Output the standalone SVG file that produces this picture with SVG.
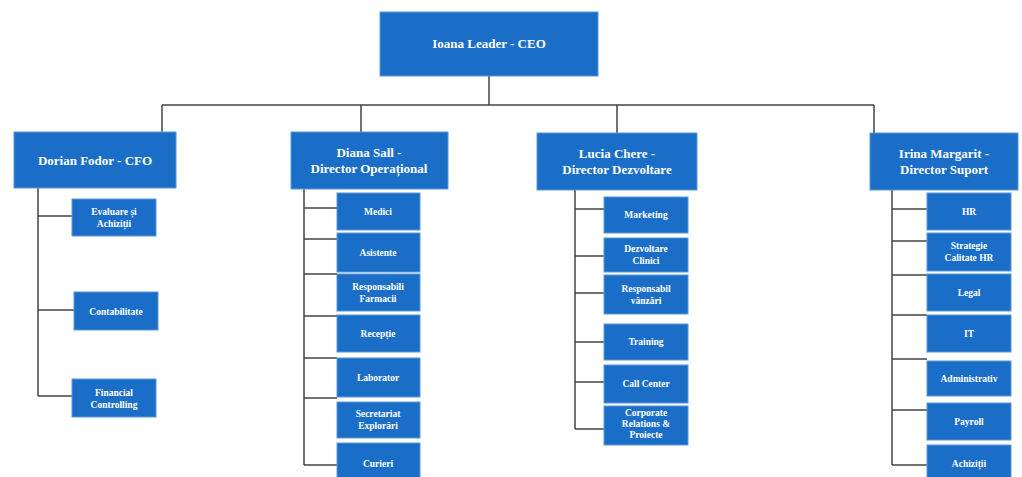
<svg xmlns="http://www.w3.org/2000/svg" width="1022" height="477" viewBox="0 0 1022 477">
<style>
.bx{fill:#1b6ec8;stroke:#5a97d8;stroke-width:1}
.h{fill:#ffffff;font-family:"Liberation Serif",serif;font-weight:bold;font-size:13px;text-anchor:middle}
.s{fill:#ffffff;font-family:"Liberation Serif",serif;font-weight:bold;font-size:9.5px;text-anchor:middle}
.ln{stroke:#444;stroke-width:1.5;fill:none}
</style>
<rect width="1022" height="477" fill="#ffffff"/>
<g id="connectors">
<path class="ln" d="M489 76V105M162 105H874M162 105V132M361 105V132M617 105V133M874 105V133"/>
<path class="ln" d="M38 188V396M38 216H72M38 310H74M38 396H72"/>
<path class="ln" d="M304 189V465M304 208H337M304 239H337M304 274H337M304 316H337M304 358H337M304 398H337M304 465H337"/>
<path class="ln" d="M575 190V429M575 209H604M575 256H604M575 293H604M575 342H604M575 382H604M575 429H604"/>
<path class="ln" d="M892 190V465M892 209H927M892 241H927M892 275H927M892 315H927M892 359H927M892 410H927M892 465H927"/>
</g>
<g id="ceo"><rect class="bx" x="380" y="12" width="218" height="64"/><text class="h" x="489" y="48">Ioana Leader - CEO</text></g>
<g id="cfo"><rect class="bx" x="14" y="132" width="162" height="56"/><text class="h" x="95" y="165">Dorian Fodor - CFO</text></g>
<g id="ops"><rect class="bx" x="291" y="132" width="157" height="57"/><text class="h" x="369" y="157">Diana Sall -</text><text class="h" x="369" y="173">Director Operațional</text></g>
<g id="dev"><rect class="bx" x="537" y="133" width="160" height="57"/><text class="h" x="617" y="158">Lucia Chere -</text><text class="h" x="617" y="174">Director Dezvoltare</text></g>
<g id="sup"><rect class="bx" x="870" y="133" width="148" height="57"/><text class="h" x="944" y="158">Irina Margarit -</text><text class="h" x="944" y="174">Director Suport</text></g>

<g id="c1a"><rect class="bx" x="72" y="199" width="84" height="37"/><text class="s" x="114" y="215">Evaluare și</text><text class="s" x="114" y="227">Achiziții</text></g>
<g id="c1b"><rect class="bx" x="74" y="292" width="84" height="38"/><text class="s" x="116" y="315">Contabilitate</text></g>
<g id="c1c"><rect class="bx" x="72" y="379" width="84" height="38"/><text class="s" x="114" y="396">Financial</text><text class="s" x="114" y="408">Controlling</text></g>

<g id="c2a"><rect class="bx" x="337" y="193" width="83" height="37"/><text class="s" x="378" y="215">Medici</text></g>
<g id="c2b"><rect class="bx" x="337" y="233" width="83" height="39"/><text class="s" x="378" y="256">Asistente</text></g>
<g id="c2c"><rect class="bx" x="337" y="274" width="83" height="37"/><text class="s" x="378" y="290">Responsabili</text><text class="s" x="378" y="302">Farmacii</text></g>
<g id="c2d"><rect class="bx" x="337" y="315" width="83" height="37"/><text class="s" x="378" y="337">Recepție</text></g>
<g id="c2e"><rect class="bx" x="337" y="358" width="83" height="39"/><text class="s" x="378" y="381">Laborator</text></g>
<g id="c2f"><rect class="bx" x="337" y="402" width="83" height="36"/><text class="s" x="378" y="417">Secretariat</text><text class="s" x="378" y="429">Explorări</text></g>
<g id="c2g"><rect class="bx" x="337" y="443" width="83" height="36"/><text class="s" x="378" y="467">Curieri</text></g>

<g id="c3a"><rect class="bx" x="604" y="197" width="84" height="36"/><text class="s" x="646" y="218">Marketing</text></g>
<g id="c3b"><rect class="bx" x="604" y="238" width="84" height="34"/><text class="s" x="646" y="252">Dezvoltare</text><text class="s" x="646" y="264">Clinici</text></g>
<g id="c3c"><rect class="bx" x="604" y="275" width="84" height="39"/><text class="s" x="646" y="292">Responsabil</text><text class="s" x="646" y="304">vânzări</text></g>
<g id="c3d"><rect class="bx" x="604" y="324" width="84" height="36"/><text class="s" x="646" y="345">Training</text></g>
<g id="c3e"><rect class="bx" x="604" y="365" width="84" height="38"/><text class="s" x="646" y="387">Call Center</text></g>
<g id="c3f"><rect class="bx" x="604" y="406" width="84" height="39"/><text class="s" x="646" y="416">Corporate</text><text class="s" x="646" y="427">Relations &amp;</text><text class="s" x="646" y="438">Proiecte</text></g>

<g id="c4a"><rect class="bx" x="927" y="193" width="84" height="37"/><text class="s" x="969" y="215">HR</text></g>
<g id="c4b"><rect class="bx" x="927" y="233" width="84" height="38"/><text class="s" x="969" y="249">Strategie</text><text class="s" x="969" y="261">Calitate HR</text></g>
<g id="c4c"><rect class="bx" x="927" y="274" width="84" height="37"/><text class="s" x="969" y="296">Legal</text></g>
<g id="c4d"><rect class="bx" x="927" y="315" width="84" height="37"/><text class="s" x="969" y="337">IT</text></g>
<g id="c4e"><rect class="bx" x="927" y="361" width="84" height="35"/><text class="s" x="969" y="382">Administrativ</text></g>
<g id="c4f"><rect class="bx" x="927" y="403" width="84" height="37"/><text class="s" x="969" y="425">Payroll</text></g>
<g id="c4g"><rect class="bx" x="927" y="445" width="84" height="34"/><text class="s" x="969" y="467">Achiziții</text></g>
</svg>
